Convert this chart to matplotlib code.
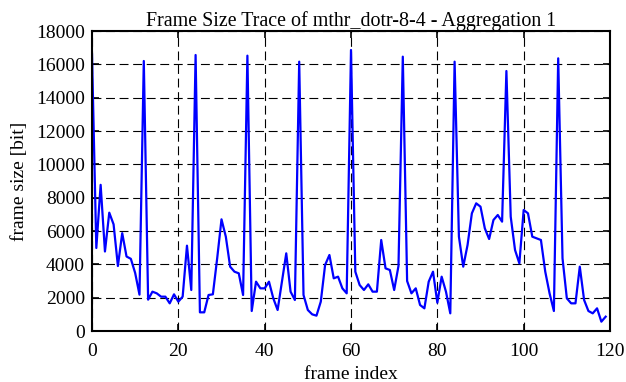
import matplotlib
matplotlib.use("Agg")
import matplotlib.pyplot as plt
import numpy as np

title = "Frame Size Trace of mthr_dotr-8-4 - Aggregation 1"
xlabel = "frame index"
ylabel = "frame size [bit]"

frame_size = [
    16600, 4980, 8770, 4770, 7100, 6400, 3900, 5870, 4470, 4330,   # 0-9
    3480, 2180, 16200, 1880, 2360, 2260, 2060, 2060, 1660, 2200,   # 10-19
    1760, 2060, 5120, 2460, 16560, 1120, 1120, 2160, 2200, 4360,   # 20-29
    6700, 5660, 3860, 3560, 3460, 2160, 16520, 1200, 2960, 2560,   # 30-39
    2560, 2960, 1960, 1260, 2960, 4660, 2360, 1860, 16160, 2160,   # 40-49
    1260, 1000, 920, 1760, 3960, 4560, 3160, 3260, 2560, 2260,     # 50-59
    16860, 3560, 2760, 2460, 2800, 2360, 2360, 5460, 3760, 3660,   # 60-69
    2460, 3900, 16460, 3000, 2260, 2560, 1560, 1360, 2960, 3560,   # 70-79
    1700, 3260, 2360, 1060, 16160, 5660, 3860, 5160, 7060, 7660,   # 80-89
    7460, 6160, 5520, 6660, 6960, 6560, 15600, 6860, 4860, 4060,   # 90-99
    7260, 7060, 5660, 5560, 5460, 3560, 2260, 1200, 16360, 4360,   # 100-109
    1960, 1660, 1660, 3860, 1860, 1200, 1060, 1360, 560, 860,      # 110-119
]
frame_index = list(range(len(frame_size)))

x_ticks = [0, 20, 40, 60, 80, 100, 120]
y_ticks = [0, 2000, 4000, 6000, 8000, 10000, 12000, 14000, 16000, 18000]

plt.rcParams['font.family'] = ['Liberation Serif', 'DejaVu Serif']

fig = plt.figure(figsize=(6.26, 3.82), dpi=100)
ax = fig.add_axes([92/626, 51/382, 518/626, 300/382])

ax.plot(frame_index, frame_size, color='#0000ff', linewidth=1.6, zorder=3)

ax.set_xlim(0, 120)
ax.set_ylim(0, 18000)
ax.set_xticks(x_ticks)
ax.set_yticks(y_ticks)
ax.set_xticklabels([str(t) for t in x_ticks])
ax.set_yticklabels([str(t) for t in y_ticks])

ax.grid(True, color='black', linewidth=0.8, linestyle=(0, (8, 4.2)), zorder=1)
ax.tick_params(direction='in', length=5, width=1.2, top=True, right=True,
               labelsize=14, colors='black')
ax.tick_params(axis='x', pad=9)
ax.tick_params(axis='y', pad=5)
for s in ax.spines.values():
    s.set_linewidth(1.5)
    s.set_zorder(4)

ax.set_title(title, fontsize=14.4, pad=3.5)
ax.set_xlabel(xlabel, fontsize=14, labelpad=4)
ax.set_ylabel(ylabel, fontsize=14, labelpad=6)

fig.savefig("out.png", dpi=100)
